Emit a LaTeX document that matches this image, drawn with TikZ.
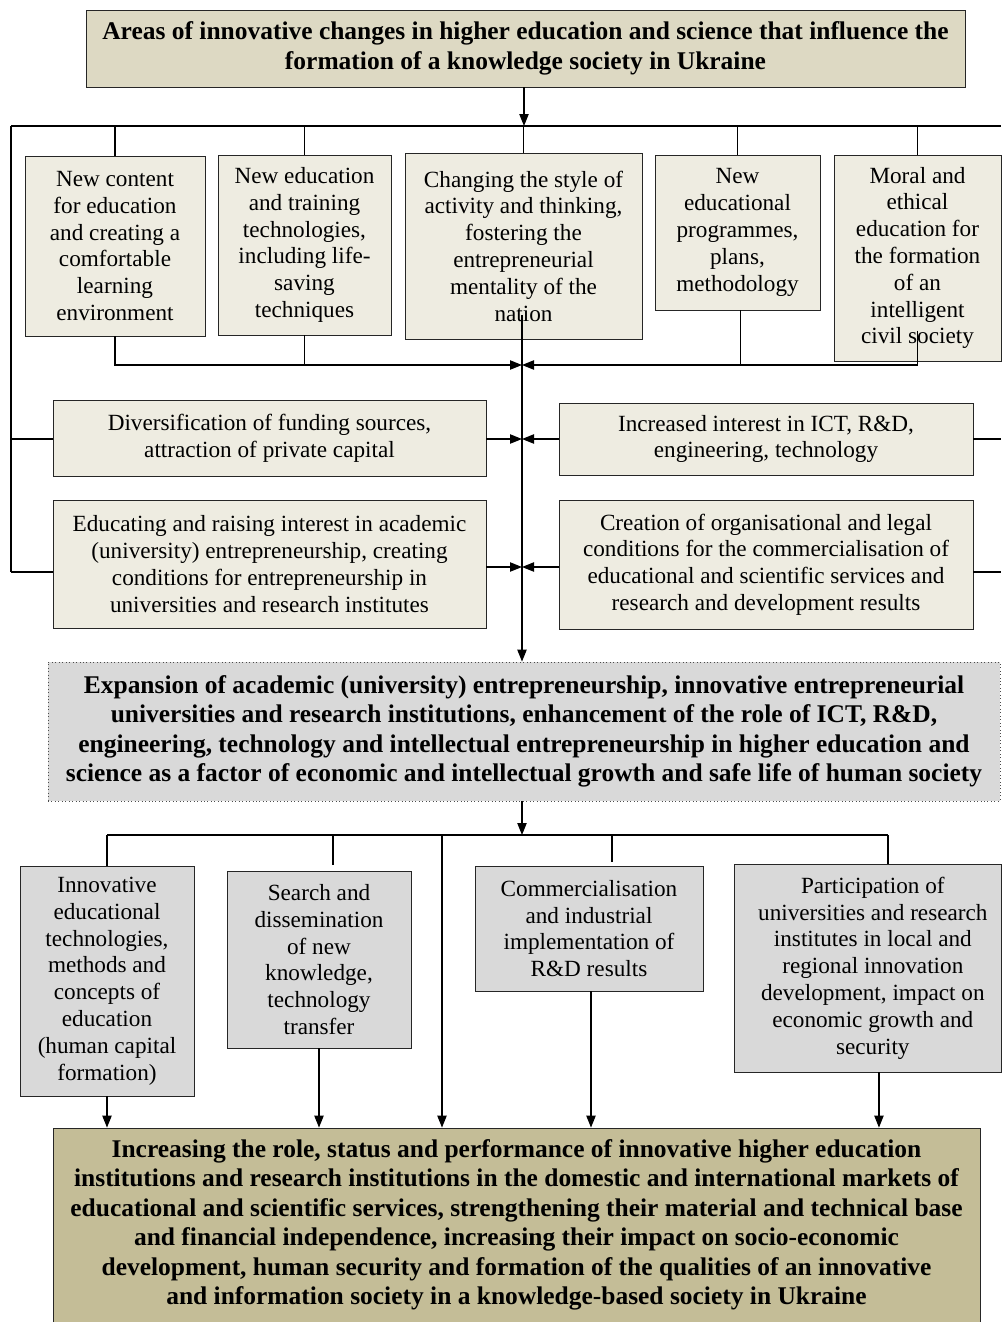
\documentclass[tikz,border=0pt]{standalone}
\usepackage{fontspec}
\setmainfont{Liberation Serif}
\usetikzlibrary{arrows.meta,calc}
\definecolor{tanlt}{HTML}{EEECE1}
\definecolor{tanmd}{HTML}{DDD9C3}
\definecolor{tandk}{HTML}{C4BD97}
\definecolor{grbox}{HTML}{D9D9D9}
\begin{document}
\begin{tikzpicture}[x=0.75pt,y=-0.75pt,
  box/.style={draw=black!85, line width=0.6pt, fill=tanlt, align=center, inner sep=0pt,
    font=\fontsize{17.4}{20.1}\selectfont},
  gbox/.style={box, fill=grbox},
  bbox/.style={draw=black!85, line width=0.6pt, align=center, inner sep=0pt,
    font=\fontsize{19.1}{22.1}\selectfont\bfseries},
  conn/.style={line width=0.9pt},
  arr/.style={conn, -{Triangle[length=9pt,width=7pt]}}]
\useasboundingbox (0,0) rectangle (1001,1322);
\fill[white] (0,0) rectangle (1001,1322);

% nodes
\node[bbox, fill=tanmd, minimum width=659.25pt, minimum height=57.75pt, font=\fontsize{19.1}{22.5}\selectfont\bfseries] (title) at (525.5,48.5)
  {Areas of innovative changes in higher education and science that influence the\\formation of a knowledge society in Ukraine};

\node[box, minimum width=135pt, minimum height=135pt] (b1) at (115,246)
  {New content\\for education\\and creating a\\comfortable\\learning\\environment};
\node[box, minimum width=129.75pt, minimum height=135pt] (b2) at (304.5,245)
  {New education\\and training\\technologies,\\including life-\\saving\\techniques};
\node[box, minimum width=177.75pt, minimum height=139.5pt] (b3) at (523.5,246)
  {Changing the style of\\activity and thinking,\\fostering the\\entrepreneurial\\mentality of the\\nation};
\node[box, minimum width=123.75pt, minimum height=116.25pt] (b4) at (737.5,232.5)
  {New\\educational\\programmes,\\plans,\\methodology};
\node[box, minimum width=125.25pt, minimum height=154.5pt] (b5) at (917.5,258)
  {Moral and\\ethical\\education for\\the formation\\of an\\intelligent\\civil society};

\node[box, minimum width=324.75pt, minimum height=57pt] (r2L) at (269.5,438)
  {Diversification of funding sources,\\attraction of private capital};
\node[box, minimum width=310.5pt, minimum height=54pt] (r2R) at (766,439)
  {Increased interest in ICT, R\&D,\\engineering, technology};
\node[box, minimum width=324.75pt, minimum height=96pt] (r3L) at (269.5,564)
  {Educating and raising interest in academic\\(university) entrepreneurship, creating\\conditions for entrepreneurship in\\universities and research institutes};
\node[box, minimum width=310.5pt, minimum height=96.75pt] (r3R) at (766,564.5)
  {Creation of organisational and legal\\conditions for the commercialisation of\\educational and scientific services and\\research and development results};

\node[bbox, fill=grbox, draw=black!70, dotted, minimum width=714pt, minimum height=104.25pt] (mid) at (524,731.5)
  {Expansion of academic (university) entrepreneurship, innovative entrepreneurial\\universities and research institutions, enhancement of the role of ICT, R\&D,\\engineering, technology and intellectual entrepreneurship in higher education and\\science as a factor of economic and intellectual growth and safe life of human society};

\node[gbox, minimum width=130.5pt, minimum height=172.5pt] (A) at (107,981)
  {Innovative\\educational\\technologies,\\methods and\\concepts of\\education\\(human capital\\formation)};
\node[gbox, minimum width=138pt, minimum height=132.75pt] (B) at (319,959.5)
  {Search and\\dissemination\\of new\\knowledge,\\technology\\transfer};
\node[gbox, minimum width=171pt, minimum height=93.75pt] (C) at (589,928.5)
  {Commercialisation\\and industrial\\implementation of\\R\&D results};
\node[gbox, minimum width=200.25pt, minimum height=156pt] (D) at (867.5,968)
  {\hspace*{8pt}Participation of\\\hspace*{8pt}universities and research\\\hspace*{8pt}institutes in local and\\\hspace*{8pt}regional innovation\\\hspace*{8pt}development, impact on\\\hspace*{8pt}economic growth and\\\hspace*{8pt}security};

\node[bbox, fill=tandk, minimum width=695.25pt, minimum height=145.5pt] (bot) at (516.5,1225)
  {Increasing the role, status and performance of innovative higher education\\institutions and research institutions in the domestic and international markets of\\educational and scientific services, strengthening their material and technical base\\and financial independence, increasing their impact on socio-economic\\development, human security and formation of the qualities of an innovative\\and information society in a knowledge-based society in Ukraine};

% coordinates
\coordinate (topbar) at (524,126);
\coordinate (LT) at (11,126);
\coordinate (RT) at (1001,126);
\coordinate (LB) at (11,572);
\coordinate (j1) at (522,365);
\coordinate (j2) at (522,439);
\coordinate (j3) at (522,567);
\coordinate (bus2) at (522,835);
\coordinate (m2) at (442,835);

% title to bus
\draw[arr] (title.south -| topbar) -- (topbar);
\draw[conn] (LT) -- (RT);
\draw[conn] (LT) -- (LB);
\foreach \n in {b1,b2,b3,b4,b5} \draw[conn] (\n.north |- topbar) -- (\n.north);

% collect below first row
\draw[arr] (b1.south) |- (j1);
\draw[conn] (b2.south) -- (b2.south |- j1);
\draw[arr] ([yshift=23pt]b5.south) |- (j1);
\draw[conn] ([xshift=2pt]b4.south) -- ([xshift=2pt]b4.south |- j1);

% central spine
\draw[arr] ([yshift=18pt]b3.south -| j1) -- (j1 |- mid.north);

% second row
\draw[arr] (r2L.east |- j2) -- (j2);
\draw[arr] (r2R.west |- j2) -- (j2);
\draw[conn] (LT |- j2) -- (r2L.west |- j2);
\draw[conn] (r2R.east |- j2) -- (RT |- j2);

% third row
\draw[arr] (r3L.east |- j3) -- (j3);
\draw[arr] (r3R.west |- j3) -- (j3);
\draw[conn] (LB) -- (LB -| r3L.west);
\draw[conn] (r3R.east |- LB) -- (RT |- LB);

% middle to lower bus
\draw[arr] (mid.south -| bus2) -- (bus2);
\draw[conn] (A.north |- bus2) -- ([xshift=15.4pt]D.north |- bus2);
\draw[conn] (A.north |- bus2) -- (A.north);
\draw[conn] ([xshift=10.5pt]B.north |- bus2) -- ([xshift=10.5pt,yshift=4pt]B.north);
\draw[conn] ([xshift=17.25pt]C.north |- bus2) -- ([xshift=17.25pt,yshift=3pt]C.north);
\draw[conn] ([xshift=15.4pt]D.north |- bus2) -- ([xshift=15.4pt]D.north);
\draw[arr] (m2) -- (m2 |- bot.north);

% lower boxes to bottom
\draw[arr] (A.south) -- (A.south |- bot.north);
\draw[arr] (B.south) -- (B.south |- bot.north);
\draw[arr] ([xshift=1.5pt]C.south) -- ([xshift=1.5pt]C.south |- bot.north);
\draw[arr] ([xshift=8.6pt]D.south) -- ([xshift=8.6pt]D.south |- bot.north);
\end{tikzpicture}
\end{document}
